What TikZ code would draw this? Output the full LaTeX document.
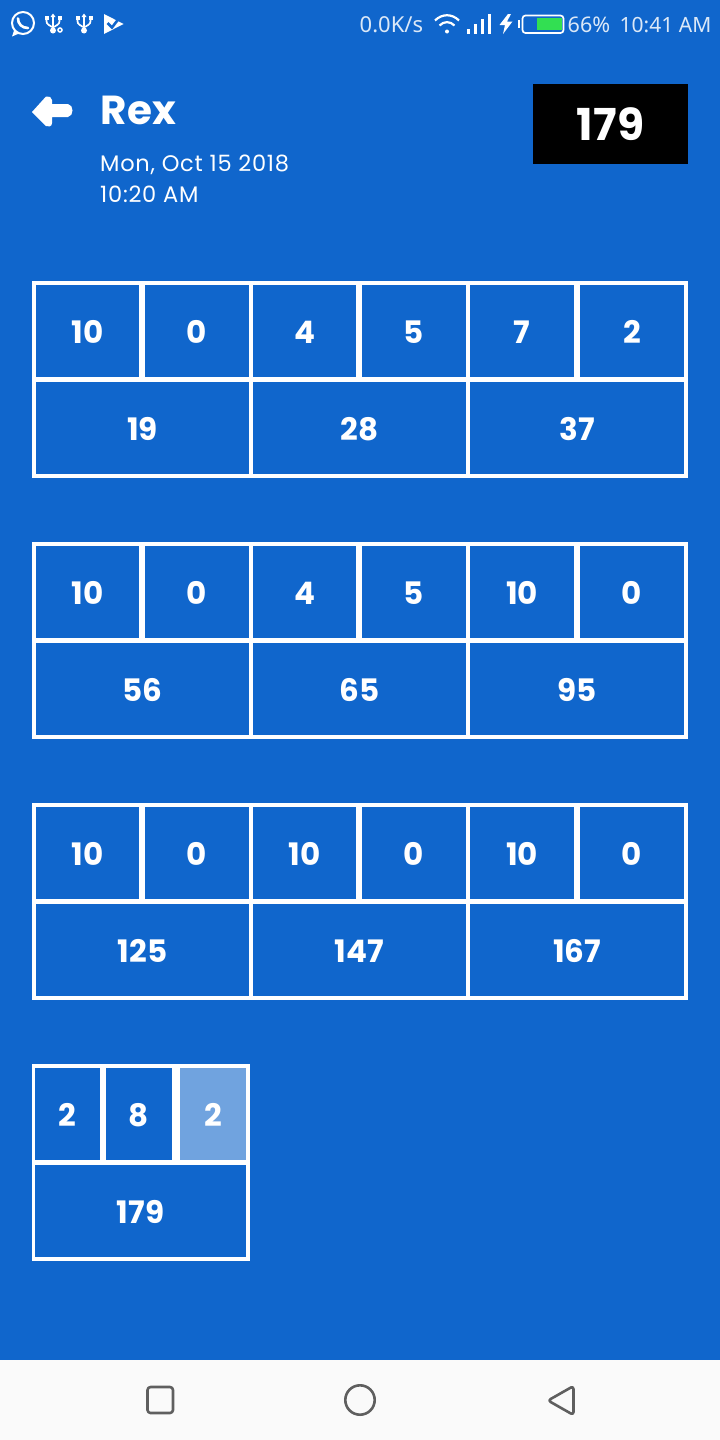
\documentclass[tikz,border=0pt]{standalone}
\usepackage{fontspec}
\setmainfont{Poppins}
\newfontfamily\statusfont{Noto Sans}
\newfontfamily\spacedfont[LetterSpace=3.3]{Poppins}
\definecolor{appblue}{HTML}{1066CC}
\definecolor{lightcell}{HTML}{70A3DF}
\definecolor{navbar}{HTML}{FAFAFA}
\definecolor{navicon}{HTML}{5F5F5F}
\definecolor{batt}{HTML}{32DF52}
\tikzset{
  cellbox/.style={fill=appblue,inner sep=0pt,outer sep=0pt,text=white,text height=24,text depth=0,font=\fontsize{31}{31}\selectfont\bfseries},
  statustext/.style={text=white,opacity=.85,anchor=base west,inner sep=0pt},
  navline/.style={draw=navicon,line width=2.6,line join=round,rounded corners=3},
  icl/.style={draw=white,line width=1.7}
}
\newcommand{\cellat}[7]{% name x0 x1 y0 y1 text fill
  \node[cellbox,fill=#7,minimum width={(#3)-(#2)},minimum height={(#5)-(#4)}] (#1) at ({((#2)+(#3))/2},{-((#4)+(#5))/2}) {#6};}
\newcommand{\tbl}[8]{%
  \fill[white] (32,-#2) rectangle (688,-#2-197);
  \cellat{#1a}{36}{139}{#2+4}{#2+96}{#3}{appblue}
  \cellat{#1b}{145}{249}{#2+4}{#2+96}{#4}{appblue}
  \cellat{#1c}{253}{356}{#2+4}{#2+96}{#5}{appblue}
  \cellat{#1d}{362}{466}{#2+4}{#2+96}{#6}{appblue}
  \cellat{#1e}{470}{574}{#2+4}{#2+96}{#7}{appblue}
  \cellat{#1f}{580}{684}{#2+4}{#2+96}{#8}{appblue}
}
\newcommand{\tblrow}[5]{%
  \cellat{#1p}{36}{249}{#2+101}{#2+193}{#3}{appblue}
  \cellat{#1q}{253}{466}{#2+101}{#2+193}{#4}{appblue}
  \cellat{#1r}{470}{684}{#2+101}{#2+193}{#5}{appblue}
}
\begin{document}
\begin{tikzpicture}[x=1pt,y=1pt]
\useasboundingbox (0,0) rectangle (720,-1440);
\fill[appblue] (0,0) rectangle (720,-1440);
\fill[navbar] (0,-1360) rectangle (720,-1440);
% status bar left icons
\draw[white,line width=2] (23,-23) circle (11);
\fill[white] (12,-36.5) -- (14.5,-29) -- (19,-33.5) -- cycle;
\draw[white,line width=2.6,line cap=round] (18,-18.5) .. controls (18,-24) and (22,-28) .. (28,-28);
% usb icons
\foreach \ux/\uy in {53/-23,84/-23}{
  \draw[icl] (\ux,-15) -- (\ux,-33);
  \draw[icl] (\ux-6.5,-18) -- (\ux-6.5,-21) .. controls (\ux-6.5,-25) and (\ux-3,-25) .. (\ux-1,-27);
  \draw[icl] (\ux+6.5,-18) -- (\ux+6.5,-21) .. controls (\ux+6.5,-25) and (\ux+3,-25) .. (\ux+1,-27);
  \fill[white] (\ux,-30.5) circle (3);
  \fill[white] (\ux-8.5,-15.5) rectangle (\ux-4.5,-19.5);
  \fill[white] (\ux+4.5,-15.5) rectangle (\ux+8.5,-19.5);
  \fill[white] (\ux-2.5,-17) -- (\ux,-13.5) -- (\ux+2.5,-17) -- cycle;
}
\draw[white,line width=1.5] (60,-30) circle (2);
% play-check icon
\fill[white] (104,-14) -- (104,-34) -- (123.5,-24) -- cycle;
\draw[appblue,line width=2.6] (107.5,-23) -- (112,-27.5) -- (120,-17);
% status bar right
\node[statustext,font=\fontsize{22}{22}\statusfont] (speed) at (359.5,-32) {0.0K/s};
\node[statustext,font=\fontsize{21.5}{21.5}\statusfont] (pct) at (567.5,-32) {66\%};
\node[statustext,font=\fontsize{21}{21}\statusfont] (clock) at (619.5,-32) {10:41 AM};
% wifi
\draw[white,line width=2.2] (435,-20.5) .. controls (442,-13.5) and (452,-13.5) .. (459,-20.5);
\draw[white,line width=2.2] (439.5,-25.5) .. controls (444,-21) and (450,-21) .. (454.5,-25.5);
\fill[white] (447,-31.5) circle (2);
% signal
\foreach \sx/\sh in {468.5/5,475.5/10,482.5/15,489.5/19.5}{
  \fill[white] (\sx-1.5,-33.5) rectangle (\sx+1.5,-33.5+\sh);
}
% bolt
\fill[white] (508,-14) -- (499.5,-25) -- (505,-25) -- (503,-34) -- (512.5,-21.5) -- (507,-21.5) -- (511,-14) -- cycle;
% battery
\fill[white] (518,-20) rectangle (520,-28);
\draw[white,line width=1.7,rounded corners=3] (522.5,-15.5) rectangle (563.5,-33);
\fill[batt] (537,-18) rectangle (562,-30);
% header
\fill[white] (32,-112) -- (46,-96.5) .. controls (49,-96) and (52,-97) .. (52,-100) -- (52,-104) -- (68,-104) .. controls (74,-105) and (74,-116) .. (68,-117) -- (52,-117) -- (52,-123) .. controls (52,-127) and (48,-127) .. (46,-126) -- cycle;
\node[anchor=base west,inner sep=0pt,text=white,font=\fontsize{40.5}{40.5}\selectfont\bfseries] (title) at (100.5,-124) {Rex};
\node[anchor=base west,inner sep=0pt,text=white,font=\fontsize{22.5}{22.5}\spacedfont] (date) at (100,-171) {Mon, Oct 15 2018};
\node[anchor=base west,inner sep=0pt,text=white,font=\fontsize{22.5}{22.5}\spacedfont] (time) at (100,-202.5) {10:20 AM};
\node[fill=black,text=white,inner sep=0pt,minimum width=155,minimum height=80,text height=32,text depth=0,font=\fontsize{44}{44}\selectfont\bfseries] (score) at (610.5,-124) {179};
% tables
\tbl{t}{281}{10}{0}{4}{5}{7}{2}\tblrow{t}{281}{19}{28}{37}
\tbl{u}{542}{10}{0}{4}{5}{10}{0}\tblrow{u}{542}{56}{65}{95}
\tbl{v}{803}{10}{0}{10}{0}{10}{0}\tblrow{v}{803}{125}{147}{167}
\fill[white] (32,-1064) rectangle (250,-1261);
\cellat{wa}{35}{100}{1068}{1160}{2}{appblue}
\cellat{wb}{106}{172}{1068}{1160}{8}{appblue}
\cellat{wc}{180}{246}{1068}{1160}{2}{lightcell}
\cellat{wd}{35}{246}{1165}{1257}{179}{appblue}
% nav
\draw[navline] (147.5,-1387) rectangle (173,-1413);
\draw[navicon,line width=2.6] (360,-1400) circle (14.7);
\draw[navline] (573.5,-1386) -- (573.5,-1415) -- (548,-1400.5) -- cycle;
\end{tikzpicture}
\end{document}
